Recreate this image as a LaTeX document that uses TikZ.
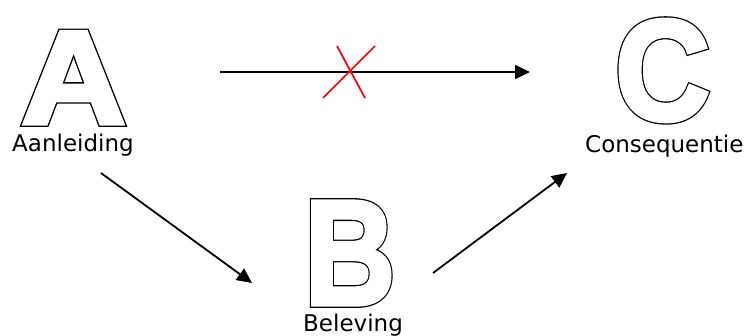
\documentclass[tikz,border=0pt]{standalone}
\usepackage{fontspec}
\setmainfont{DejaVu Sans}
\newfontfamily\letterfont{Liberation Sans Bold}
\usetikzlibrary{arrows.meta}
\tikzset{
  label/.style={anchor=base west, inner sep=0pt, font=\fontsize{23}{27}\selectfont},
  bigletter/.style={anchor=base west, inner sep=0pt},
  conn/.style={line width=1.8pt, -{Triangle[length=15pt,width=14pt]}},
  cross/.style={red, line width=1.7pt}
}
% heavy outlined letter: black stroke, then white fill+stroke on top
\newcommand{\outl}[1]{%
  \rlap{\special{pdf:code q 1 Tr 6.9 w 0 0 0 RG 0 j}#1\special{pdf:code Q}}%
  \special{pdf:code q 2 Tr 4.3 w 1 1 1 RG 1 1 1 rg 0 j}#1\special{pdf:code Q}}
\begin{document}
\begin{tikzpicture}[x=1pt,y=-1pt]
\useasboundingbox (0,0) rectangle (750,335);
% letters
\node[bigletter, xscale=1.09] (A) at (21,123.5) {\letterfont\fontsize{133}{135}\selectfont\outl{A}};
\node[bigletter, xscale=0.842] (B) at (304.3,304.5) {\letterfont\fontsize{149.6}{150}\selectfont\outl{B}};
\node[bigletter, xscale=0.916] (C) at (615,119.8) {\letterfont\fontsize{143.4}{145}\selectfont\outl{C}};
% labels
\node[label] (la) at (12,151) {Aanleiding};
\node[label] (lb) at (303,331) {Beleving};
\node[label] (lc) at (585,152) {Consequentie};
% connector coordinates
\coordinate (t1) at (220,72);
\coordinate (t2) at (530,72);
\coordinate (d1) at (101,173);
\coordinate (d2) at (252,283);
\coordinate (e1) at (433,273);
\coordinate (e2) at (567,173);
\draw[conn] (t1) -- (t2);
\draw[conn] (d1) -- (d2);
\draw[conn] (e1) -- (e2);
% red cross
\coordinate (x1) at (323,98);
\coordinate (x2) at (375,46);
\coordinate (x3) at (337,46);
\coordinate (x4) at (365,98);
\draw[cross] (x1) -- (x2);
\draw[cross] (x3) -- (x4);
\end{tikzpicture}
\end{document}
